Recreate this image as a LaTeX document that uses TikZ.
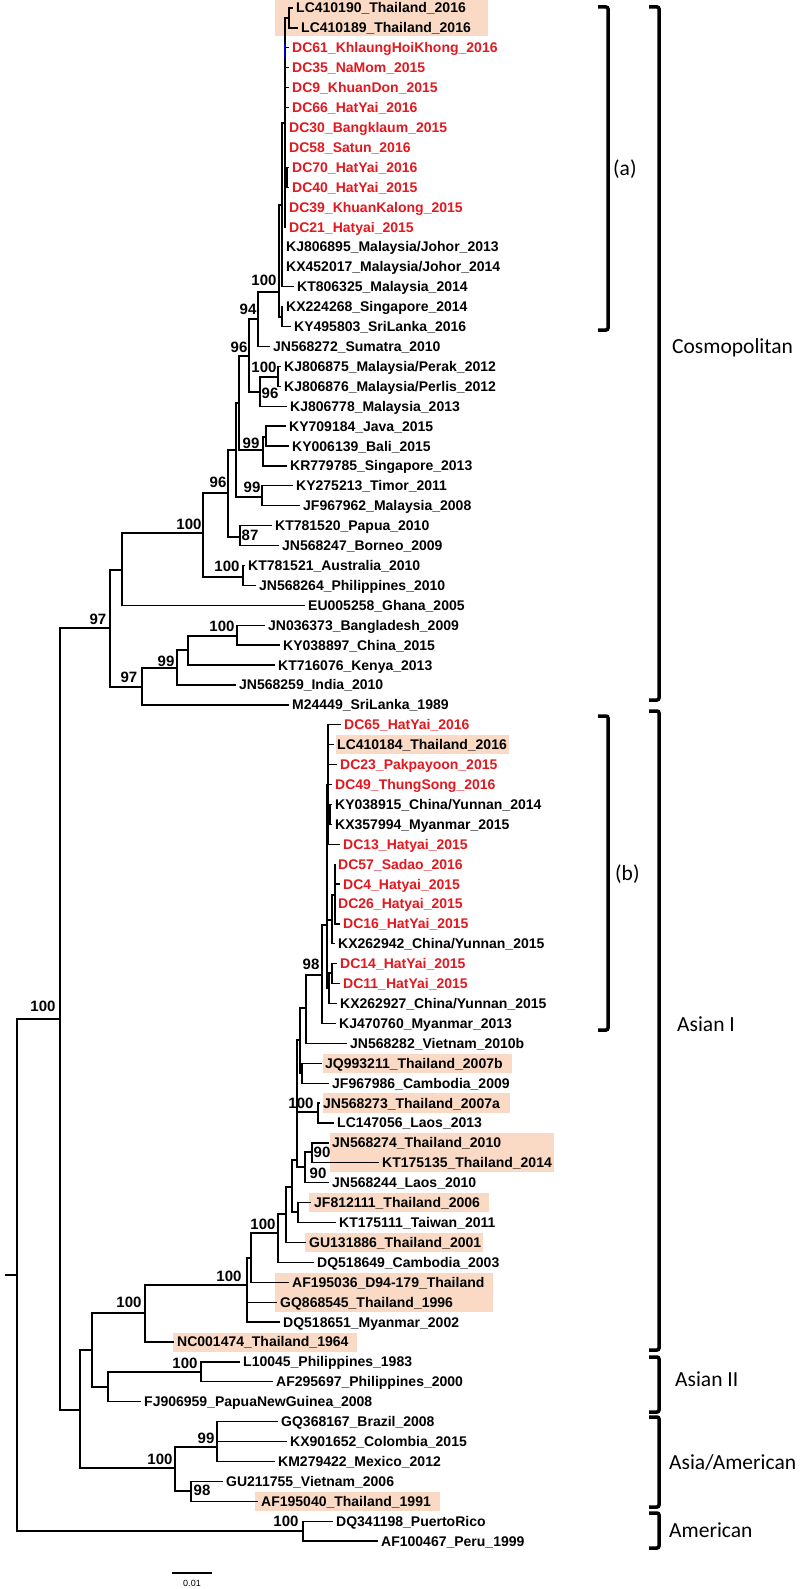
\documentclass[tikz,border=0pt]{standalone}
\usepackage{fontspec}
\setmainfont{Liberation Sans}
\newfontfamily\cladefont{Carlito}
\definecolor{dcred}{RGB}{228,24,30}
\definecolor{peach}{RGB}{250,218,196}
\tikzset{
  branch/.style={line width=1.3pt},
  leaf/.style={anchor=west, inner xsep=3pt, inner ysep=0pt, text height=10pt, text depth=0pt, font=\fontsize{14}{16}\selectfont\bfseries},
  boot/.style={inner sep=0pt, text height=10pt, text depth=0pt, font=\fontsize{15}{17}\selectfont\bfseries},
  hilite/.style={fill=peach},
  bracket/.style={line width=3.5pt, rounded corners=2pt},
  clade/.style={anchor=west, inner sep=0pt, font=\cladefont\fontsize{21.5}{25}\selectfont},
}
\begin{document}
\begin{tikzpicture}[x=1pt, y=-1pt]
  \fill[white] (0,0) rectangle (800,1589);
  \useasboundingbox (0,0) rectangle (800,1589);
  % Thai reference strains
  \foreach \xa/\ya/\xb/\yb in {275/0/488/36, 336/735/509/754, 323/1054/512/1073, 323/1093/510/1113,
      330/1133/554/1172, 309/1193/489/1212, 305/1233/483/1252, 275/1273/493/1312,
      173/1333/357/1352, 255/1492/440/1511}
    \fill[hilite] (\xa,\ya) rectangle (\xb,\yb);
  % Leaves
  \foreach \i/\tip/\lab/\col in {
      0/293/LC410190\_Thailand\_2016/black, 1/298/LC410189\_Thailand\_2016/black,
      2/289/DC61\_KhlaungHoiKhong\_2016/dcred, 3/289/DC35\_NaMom\_2015/dcred,
      4/289/DC9\_KhuanDon\_2015/dcred, 5/289/DC66\_HatYai\_2016/dcred,
      6/286/DC30\_Bangklaum\_2015/dcred, 7/286/DC58\_Satun\_2016/dcred,
      8/289/DC70\_HatYai\_2016/dcred, 9/289/DC40\_HatYai\_2015/dcred,
      10/286/DC39\_KhuanKalong\_2015/dcred, 11/286/DC21\_Hatyai\_2015/dcred,
      12/283/{KJ806895\_Malaysia/Johor\_2013}/black, 13/283/{KX452017\_Malaysia/Johor\_2014}/black,
      14/294/KT806325\_Malaysia\_2014/black, 15/283/KX224268\_Singapore\_2014/black,
      16/291/KY495803\_SriLanka\_2016/black, 17/270/JN568272\_Sumatra\_2010/black,
      18/281/{KJ806875\_Malaysia/Perak\_2012}/black, 19/281/{KJ806876\_Malaysia/Perlis\_2012}/black,
      20/287/KJ806778\_Malaysia\_2013/black, 21/286/KY709184\_Java\_2015/black,
      22/289/KY006139\_Bali\_2015/black, 23/287/KR779785\_Singapore\_2013/black,
      24/293/KY275213\_Timor\_2011/black, 25/300/JF967962\_Malaysia\_2008/black,
      26/272/KT781520\_Papua\_2010/black, 27/279/JN568247\_Borneo\_2009/black,
      28/245/KT781521\_Australia\_2010/black, 29/256/JN568264\_Philippines\_2010/black,
      30/305/EU005258\_Ghana\_2005/black, 31/265/JN036373\_Bangladesh\_2009/black,
      32/280/KY038897\_China\_2015/black, 33/275/KT716076\_Kenya\_2013/black,
      34/236/JN568259\_India\_2010/black, 35/289/M24449\_SriLanka\_1989/black,
      36/341/DC65\_HatYai\_2016/dcred, 37/334/LC410184\_Thailand\_2016/black,
      38/337/DC23\_Pakpayoon\_2015/dcred, 39/332/DC49\_ThungSong\_2016/dcred,
      40/332/{KY038915\_China/Yunnan\_2014}/black, 41/332/KX357994\_Myanmar\_2015/black,
      42/340/DC13\_Hatyai\_2015/dcred, 43/335/DC57\_Sadao\_2016/dcred,
      44/340/DC4\_Hatyai\_2015/dcred, 45/335/DC26\_Hatyai\_2015/dcred,
      46/340/DC16\_HatYai\_2015/dcred, 47/335/{KX262942\_China/Yunnan\_2015}/black,
      48/337/DC14\_HatYai\_2015/dcred, 49/340/DC11\_HatYai\_2015/dcred,
      50/337/{KX262927\_China/Yunnan\_2015}/black, 51/336/KJ470760\_Myanmar\_2013/black,
      52/347/JN568282\_Vietnam\_2010b/black, 53/322/JQ993211\_Thailand\_2007b/black,
      54/329/JF967986\_Cambodia\_2009/black, 55/320/JN568273\_Thailand\_2007a/black,
      56/334/LC147056\_Laos\_2013/black, 57/329/JN568274\_Thailand\_2010/black,
      58/379/KT175135\_Thailand\_2014/black, 59/329/JN568244\_Laos\_2010/black,
      60/311/JF812111\_Thailand\_2006/black, 61/336/KT175111\_Taiwan\_2011/black,
      62/306/GU131886\_Thailand\_2001/black, 63/314/DQ518649\_Cambodia\_2003/black,
      64/289/AF195036\_D94-179\_Thailand/black, 65/277/GQ868545\_Thailand\_1996/black,
      66/280/DQ518651\_Myanmar\_2002/black, 67/174/NC001474\_Thailand\_1964/black,
      68/240/L10045\_Philippines\_1983/black, 69/273/AF295697\_Philippines\_2000/black,
      70/141/FJ906959\_PapuaNewGuinea\_2008/black, 71/278/GQ368167\_Brazil\_2008/black,
      72/287/KX901652\_Colombia\_2015/black, 73/275/KM279422\_Mexico\_2012/black,
      74/223/GU211755\_Vietnam\_2006/black, 75/258/AF195040\_Thailand\_1991/black,
      76/333/DQ341198\_PuertoRico/black, 77/378/AF100467\_Peru\_1999/black}
    \node[leaf, text=\col] (l\i) at (\tip, {8+19.91*\i}) {\lab};
  % Internal nodes
  \foreach \n/\x/\y in {root/17/1275, n100a/60/1019, amer100/303/1531,
      c97/110/628, ca/122/570, cb100/203/533, ch96/228/493, cs/236/450, cp/239/403,
      cl96/249/356, ck94/258/319, cv100/279/292, cw/282/205, cwa/285/123, clc/289/18,
      cdc/287/178, cx/282/317, cm/260/392, cn100/278/377, cq99/263/450, cr/266/437,
      ct99/262/497, cu87/240/537, ci100/243/577, cd97/142/687, ce99/177/668,
      cf/188/650, cg100/237/636,
      z/80/1410, aa/92/1350, ab100/145/1313, ag100/247/1285, ai/251/1258,
      ah100/278/1233, bj/286/1214, bi/292/1187, bh/297/1160, bg/300/1040,
      bg2/302/1073, bd/306/1008, b98/322/975, bc/327/925, bk/328/785, bl/330/815,
      bn/332/920, bm/335/895, bo/329/988, bp/332/973, al100/318/1112,
      am90/305/1167, an90/312/1152, ak/298/1212, ac/108/1387, ad100/201/1372,
      am100/175/1468, ae99/217/1447, af98/191/1491}
    \coordinate (\n) at (\x,\y);
  \coordinate (stub) at (5,1275);
  % Branches
  \draw[branch] (stub) -- (root);
  \foreach \p/\kids in {root/{n100a,amer100}, n100a/{c97,z},
      % Cosmopolitan
      c97/{ca,cd97}, ca/{cb100,l30}, cb100/{ch96,ci100}, ch96/{cs,cu87},
      cs/{cp,ct99}, cp/{cl96,cq99}, cl96/{ck94,cm}, ck94/{cv100,l17},
      cv100/{cw,cx}, cw/{cwa,l12,l13,l14},
      cwa/{clc,l2,l3,l4,l5,l6,l7,cdc,l10,l11}, clc/{l0,l1}, cdc/{l8,l9},
      cx/{l15,l16}, cm/{cn100,l20}, cn100/{l18,l19}, cq99/{cr,l23},
      cr/{l21,l22}, ct99/{l24,l25}, cu87/{l26,l27}, ci100/{l28,l29},
      cd97/{ce99,l35}, ce99/{cf,l34}, cf/{cg100,l33}, cg100/{l31,l32},
      % Asian I
      z/{aa,am100}, aa/{ab100,ac}, ab100/{ag100,l67}, ag100/{ai,l65,l66},
      ai/{ah100,l64}, ah100/{bj,l63}, bj/{bi,l62}, bi/{bh,ak},
      bh/{bg,al100,am90}, bg/{bd,bg2}, bg2/{l53,l54}, bd/{b98,l52},
      b98/{bc,l51}, bc/{bk,bn,bo}, bk/{l36,l37,l38,l39,bl,l42}, bl/{l40,l41},
      bn/{bm,l47}, bm/{l43,l44,l45,l46}, bo/{bp,l50}, bp/{l48,l49},
      al100/{l55,l56}, am90/{an90,l59}, an90/{l57,l58}, ak/{l60,l61},
      % Asian II, Asia/American, American
      ac/{ad100,l70}, ad100/{l68,l69}, am100/{ae99,af98},
      ae99/{l71,l72,l73}, af98/{l74,l75}, amer100/{l76,l77}}{
    \foreach \k in \kids
      \draw[branch] (\p) |- (\k);
  }
  \draw[blue!80!black, line width=1pt] (284.5,44) -- (284.5,58);
  % Bootstrap values
  \foreach \j/\x/\y/\v in {1/264/280/100, 2/248/309/94, 3/239/347/96, 4/264/367/100,
      5/270/393/96, 6/251/443/99, 7/218/482/96, 8/252/487/99, 9/189/524/100,
      10/250/535/87, 11/227/566/100, 12/98/619/97, 13/222/626/100, 14/166/661/99,
      15/129/677/97, 16/43/1006/100, 17/311/964/98, 18/301/1103/100, 19/322/1152/90,
      20/318/1173/90, 21/263/1224/100, 22/229/1276/100, 23/129/1302/100,
      24/185/1363/100, 25/206/1438/99, 26/160/1459/100, 27/202/1490/98, 28/286/1521/100}
    \node[boot] (bs\j) at (\x,\y) {\v};
  % Scale bar
  \coordinate (sbl) at (172,1573);
  \coordinate (sbr) at (212,1573);
  \draw[branch] (sbl) -- (sbr);
  \node[inner sep=0pt, font=\fontsize{9}{10}\selectfont] (sbt) at (192,1583) {0.01};
  % Clade brackets
  \draw[bracket] (598,7) -- (608,7) -- (608,330) -- (598,330);
  \draw[bracket] (598,716) -- (608,716) -- (608,1030) -- (598,1030);
  \draw[bracket] (649,7) -- (659,7) -- (659,700) -- (649,700);
  \draw[bracket] (649,711) -- (659,711) -- (659,1350) -- (649,1350);
  \draw[bracket] (649,1357) -- (659,1357) -- (659,1412) -- (649,1412);
  \draw[bracket] (649,1417) -- (659,1417) -- (659,1507) -- (649,1507);
  \draw[bracket] (649,1513) -- (659,1513) -- (659,1548) -- (649,1548);
  \node[clade] (la) at (613,169) {(a)};
  \node[clade] (lb) at (615,874) {(b)};
  \node[clade] (lcos) at (672,348) {Cosmopolitan};
  \node[clade] (lai) at (677,1024) {Asian I};
  \node[clade] (laii) at (675,1379) {Asian II};
  \node[clade] (laa) at (669,1462) {Asia/American};
  \node[clade] (lam) at (669,1530) {American};
\end{tikzpicture}
\end{document}
